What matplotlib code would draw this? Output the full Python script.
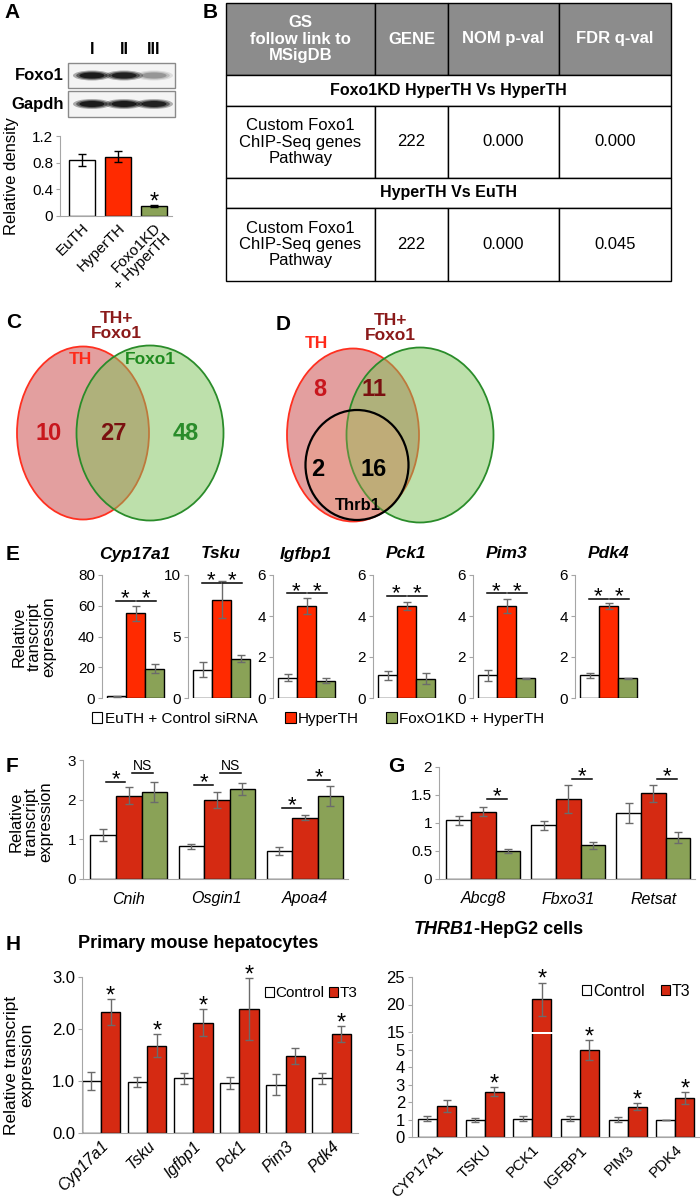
import numpy as np
import matplotlib
matplotlib.use('Agg')
import matplotlib.pyplot as plt
from matplotlib.patches import Ellipse, Rectangle, Patch

W, H = 700, 1198
plt.rcParams['font.family'] = ['Liberation Sans', 'DejaVu Sans']
NARROW = ['Liberation Sans Narrow', 'Liberation Sans', 'DejaVu Sans']

RED_E = '#ff2a00'
RED_H = '#d52a12'
GREEN = '#8aa257'
GRAY = '#a6a6a6'
ERR = '#6b6b6b'

# ---- A: western blot quantification
a_groups = ['EuTH', 'HyperTH', 'Foxo1KD\n+ HyperTH']
a_vals = [0.84, 0.89, 0.15]
a_errs = [0.09, 0.08, 0.01]
blot_lanes = ['I', 'II', 'III']
foxo1_band = [1.0, 0.95, 0.3]
gapdh_band = [1.0, 1.0, 0.95]

# ---- B: GSEA table
b_header = ['GS\nfollow link to\nMSigDB', 'GENE', 'NOM p-val', 'FDR q-val']
b_sections = ['Foxo1KD HyperTH Vs HyperTH', 'HyperTH Vs EuTH']
b_gs = ['Custom Foxo1\nChIP-Seq genes\nPathway', 'Custom Foxo1\nChIP-Seq genes\nPathway']
b_gene = ['222', '222']
b_nom = ['0.000', '0.000']
b_fdr = ['0.000', '0.045']

# ---- C / D: venn counts
c_counts = ['10', '27', '48']
d_counts = ['8', '11', '2', '16']

# ---- E
e_genes = ['Cyp17a1', 'Tsku', 'Igfbp1', 'Pck1', 'Pim3', 'Pdk4']
e_euth = [1.0, 2.3, 1.0, 1.1, 1.1, 1.1]
e_euth_err = [0.5, 0.6, 0.15, 0.2, 0.25, 0.1]
e_hyper = [55, 8.0, 4.5, 4.5, 4.5, 4.5]
e_hyper_err = [5, 1.5, 0.4, 0.2, 0.35, 0.15]
e_kd = [19, 3.2, 0.85, 0.95, 0.97, 0.97]
e_kd_err = [3, 0.3, 0.12, 0.25, 0.03, 0.03]
e_ymax = [80, 10, 6, 6, 6, 6]
e_step = [20, 5, 2, 2, 2, 2]
e_sig_y = [63, 9.35, 5.1, 5.0, 5.1, 4.85]
e_legend = ['EuTH + Control siRNA', 'HyperTH', 'FoxO1KD + HyperTH']

# ---- F
f_genes = ['Cnih', 'Osgin1', 'Apoa4']
f_euth = [1.1, 0.82, 0.7]
f_euth_err = [0.15, 0.06, 0.1]
f_hyper = [2.1, 2.0, 1.55]
f_hyper_err = [0.22, 0.2, 0.07]
f_kd = [2.2, 2.27, 2.1]
f_kd_err = [0.25, 0.15, 0.25]
# (group, pair: 0 = EuTH-HyperTH, 1 = HyperTH-KD, y, label)
f_sig = [(0, 0, 2.44, '*'), (0, 1, 2.67, 'NS'), (1, 0, 2.37, '*'),
         (1, 1, 2.67, 'NS'), (2, 0, 1.79, '*'), (2, 1, 2.5, '*')]

# ---- G
g_genes = ['Abcg8', 'Fbxo31', 'Retsat']
g_euth = [1.05, 0.96, 1.18]
g_euth_err = [0.08, 0.08, 0.18]
g_hyper = [1.2, 1.43, 1.53]
g_hyper_err = [0.08, 0.25, 0.15]
g_kd = [0.5, 0.6, 0.74]
g_kd_err = [0.03, 0.06, 0.1]
g_sig = [(0, 1, 1.43, '*'), (1, 1, 1.79, '*'), (2, 1, 1.79, '*')]

# ---- H
h1_genes = ['Cyp17a1', 'Tsku', 'Igfbp1', 'Pck1', 'Pim3', 'Pdk4']
h1_ctrl = [1.0, 0.98, 1.05, 0.96, 0.93, 1.05]
h1_ctrl_err = [0.17, 0.1, 0.1, 0.12, 0.2, 0.1]
h1_t3 = [2.33, 1.68, 2.12, 2.38, 1.48, 1.9]
h1_t3_err = [0.25, 0.22, 0.26, 0.6, 0.15, 0.15]
h1_star = [True, True, True, True, False, True]

h2_genes = ['CYP17A1', 'TSKU', 'PCK1', 'IGFBP1', 'PIM3', 'PDK4']
h2_ctrl = [1.05, 1.0, 1.05, 1.05, 1.0, 1.0]
h2_ctrl_err = [0.15, 0.12, 0.15, 0.15, 0.15, 0.0]
h2_t3 = [1.8, 2.6, 21.0, 5.0, 1.75, 2.25]
h2_t3_err = [0.35, 0.27, 3.0, 0.55, 0.2, 0.35]
h2_star = [False, True, True, True, True, True]


fig = plt.figure(figsize=(7, 11.98), dpi=100)

# overlay axes in pixel coords (y down) for text, table, venn, blot
ov = fig.add_axes([0, 0, 1, 1])
ov.set_xlim(0, W)
ov.set_ylim(H, 0)
ov.axis('off')
ov.set_zorder(10)


def px_ax(x0, y0, x1, y1):
    ax = fig.add_axes([x0 / W, 1 - y1 / H, (x1 - x0) / W, (y1 - y0) / H])
    ax.set_facecolor('none')
    for s in ['top', 'right']:
        ax.spines[s].set_visible(False)
    ax.spines['left'].set_color(GRAY)
    ax.spines['bottom'].set_color(GRAY)
    ax.tick_params(axis='y', length=3, color=GRAY, labelsize=11, pad=2)
    ax.tick_params(axis='x', length=0, labelsize=11)
    return ax


def sig(ax, x0, x1, y, label):
    ax.plot([x0, x1], [y, y], color='black', lw=1.1, clip_on=False)
    if label == '*':
        ax.annotate(label, ((x0 + x1) / 2, y), xytext=(0, -6), textcoords='offset points',
                    ha='center', va='bottom', fontsize=16, annotation_clip=False)
    else:
        ax.annotate(label, ((x0 + x1) / 2, y), xytext=(0, 0), textcoords='offset points',
                    ha='center', va='bottom', fontsize=10, annotation_clip=False)


def star(ax, x, y):
    ax.annotate('*', (x, y), xytext=(0, -6), textcoords='offset points', ha='center',
                va='bottom', fontsize=17, annotation_clip=False)


ekw = dict(ecolor=ERR, elinewidth=1, capsize=3, capthick=1)

# panel letters
for lab, x, y in [('A', 4, 12), ('B', 203, 12), ('C', 6, 323), ('D', 276, 325),
                  ('E', 6, 555), ('F', 6, 766), ('G', 388, 766), ('H', 6, 944)]:
    ov.text(x, y, lab, fontsize=15, fontweight='bold', va='center', ha='left')

# ---------------- A ----------------
lane_x = [92, 124, 154]
for lx, lab in zip(lane_x, blot_lanes):
    ov.text(lx, 50, lab, fontsize=11.5, fontweight='bold', ha='center', va='center')
for (y0, y1, name, bands) in [(63, 88, 'Foxo1', foxo1_band), (91, 117, 'Gapdh', gapdh_band)]:
    ov.add_patch(Rectangle((68, y0), 107, y1 - y0, facecolor='#f4f4f4', edgecolor='#8a8a8a', lw=1))
    ov.text(64, (y0 + y1) / 2, name, fontsize=12, fontweight='bold', ha='right', va='center')
    for lx, b in zip(lane_x, bands):
        for k, a in [(1.0, 0.3), (0.8, 0.45), (0.6, 0.7)]:
            ov.add_patch(Ellipse((lx, (y0 + y1) / 2), 32 * k + 6, 10 * k,
                                 facecolor='black', edgecolor='none', alpha=a * b))

axA = px_ax(60, 136, 172, 216)
axA.bar(range(3), a_vals, 0.7, color=['white', RED_E, GREEN], edgecolor='black', lw=1,
        yerr=a_errs, error_kw=dict(ecolor='black', elinewidth=1, capsize=3, capthick=1))
axA.set_ylim(0, 1.2)
axA.set_xlim(-0.61, 2.5)
axA.set_yticks([0, 0.4, 0.8, 1.2], labels=['0', '0.4', '0.8', '1.2'])
axA.set_xticks(range(3))
axA.set_xticklabels(a_groups, rotation=45, ha='right', rotation_mode='anchor', fontsize=11,
                    linespacing=0.95)
star(axA, 2, a_vals[2] + a_errs[2])
ov.text(12, 176, 'Relative density', rotation=90, fontsize=12, ha='center', va='center')

# ---------------- B ----------------
cols = [226, 375, 448, 559, 671]
rows = [3, 75, 106, 178, 208, 281]
for i, htxt in enumerate(b_header):
    ov.add_patch(Rectangle((cols[i], rows[0]), cols[i + 1] - cols[i], rows[1] - rows[0],
                           facecolor='#8c8c8c', edgecolor='black', lw=1))
    ov.text((cols[i] + cols[i + 1]) / 2, (rows[0] + rows[1]) / 2, htxt, color='white',
            fontweight='bold', fontsize=12, ha='center', va='center', linespacing=1.1)
for k in range(2):
    r0, r1, r2 = rows[1 + 2 * k], rows[2 + 2 * k], rows[3 + 2 * k]
    ov.add_patch(Rectangle((cols[0], r0), cols[-1] - cols[0], r1 - r0, facecolor='white',
                           edgecolor='black', lw=1))
    ov.text((cols[0] + cols[-1]) / 2, (r0 + r1) / 2, b_sections[k], fontweight='bold',
            fontsize=11.5, ha='center', va='center')
    cells = [b_gs[k], b_gene[k], b_nom[k], b_fdr[k]]
    for i, ctxt in enumerate(cells):
        ov.add_patch(Rectangle((cols[i], r1), cols[i + 1] - cols[i], r2 - r1, facecolor='white',
                               edgecolor='black', lw=1))
        ov.text((cols[i] + cols[i + 1]) / 2, (r1 + r2) / 2, ctxt, fontsize=12, ha='center',
                va='center', linespacing=1.1)

# ---------------- C / D venn ----------------
RED_FILL = '#c94141'
GRN_FILL = '#7dc359'
DARK_RED = '#8b1a1a'


def venn_pair(cx_r, cx_g, cy):
    ov.add_patch(Ellipse((cx_r, cy), 132, 173, facecolor=RED_FILL, alpha=0.5, edgecolor='none'))
    ov.add_patch(Ellipse((cx_r, cy), 132, 173, facecolor='none', edgecolor='#ff3020', lw=1.3))
    ov.add_patch(Ellipse((cx_g, cy), 147, 175, facecolor=GRN_FILL, alpha=0.5, edgecolor='none'))
    ov.add_patch(Ellipse((cx_g, cy), 147, 175, facecolor='none', edgecolor='#2a8c2a', lw=1.3))


def vtext(x, y, s, col, fs=12.5):
    ov.text(x, y, s, color=col, fontweight='bold', fontsize=fs, family=NARROW,
            ha='center', va='center', linespacing=1.05)


venn_pair(83, 150, 433)
vtext(116, 326, 'TH+\nFoxo1', DARK_RED)
vtext(80, 360, 'TH', '#ff2a1a')
vtext(150, 360, 'Foxo1', '#1f8a1f')
for txt, x, col in zip(c_counts, [49, 113, 186], ['#c8161d', '#7a1010', '#2a8c2a']):
    vtext(x, 433, txt, col, fs=17)

venn_pair(353, 420, 435)
ov.add_patch(Ellipse((357, 465), 103, 110, facecolor='#f0a070', alpha=0.25, edgecolor='none'))
ov.add_patch(Ellipse((357, 465), 103, 110, facecolor='none', edgecolor='black', lw=1.6))
vtext(390, 328, 'TH+\nFoxo1', DARK_RED)
vtext(316, 343, 'TH', '#ff2a1a')
for txt, x, y, col in zip(d_counts, [320, 374, 318, 374], [390, 390, 470, 470],
                          ['#c8161d', '#7a1010', 'black', 'black']):
    vtext(x, y, txt, col, fs=17)
vtext(358, 505, 'Thrb1', 'black', fs=12)

# ---------------- E ----------------
e_x = [102, 188, 273, 373, 473, 575]
for i, g in enumerate(e_genes):
    ax = px_ax(e_x[i], 575, e_x[i] + 66, 698)
    ax.bar(range(3), [e_euth[i], e_hyper[i], e_kd[i]], 1.0, color=['white', RED_E, GREEN],
           edgecolor='black', lw=1, yerr=[e_euth_err[i], e_hyper_err[i], e_kd_err[i]], error_kw=ekw)
    ax.set_ylim(0, e_ymax[i])
    ax.set_xlim(-0.78, 2.7)
    ax.set_yticks(np.arange(0, e_ymax[i] + 1, e_step[i]))
    ax.set_xticks([])
    ax.spines['bottom'].set_visible(False)
    sig(ax, -0.05, 0.94, e_sig_y[i], '*')
    sig(ax, 1.06, 2.05, e_sig_y[i], '*')
    ov.text(e_x[i] + 33, 554, g, fontsize=12.5, fontweight='bold', fontstyle='italic',
            ha='center', va='center')
ov.text(34, 637, 'Relative\ntranscript\nexpression', rotation=90, fontsize=12,
        ha='center', va='center', linespacing=1.0)
hE = [Patch(facecolor=c, edgecolor='black', lw=0.8) for c in ['white', RED_E, GREEN]]
ov.legend(hE, e_legend, loc='center', bbox_to_anchor=(318, 719), bbox_transform=ov.transData,
          ncol=3, frameon=False, handlelength=0.7, handleheight=0.7, handletextpad=0.15,
          columnspacing=1.8, fontsize=11)


# ---------------- F / G ----------------
def triple(ax, genes, v1, e1, v2, e2, v3, e3, sigs, red):
    w = 0.29
    xs = np.arange(len(genes))
    for off, v, e, c in [(-w, v1, e1, 'white'), (0, v2, e2, red), (w, v3, e3, GREEN)]:
        ax.bar(xs + off, v, w, color=c, edgecolor='black', lw=1, yerr=e, error_kw=ekw)
    for gi, pair, y, lab in sigs:
        if pair == 0:
            sig(ax, gi - w + 0.03, gi - 0.04, y, lab)
        else:
            sig(ax, gi + 0.04, gi + w - 0.01, y, lab)
    ax.set_xticks(xs)
    ax.set_xticklabels(genes, fontstyle='italic', fontsize=11.5)
    ax.tick_params(axis='x', pad=9)
    ax.set_xlim(-0.52, 2.49)


axF = px_ax(83, 760, 348, 879)
triple(axF, f_genes, f_euth, f_euth_err, f_hyper, f_hyper_err, f_kd, f_kd_err, f_sig, RED_H)
axF.set_ylim(0, 3)
axF.set_yticks([0, 1, 2, 3])
ov.text(31, 822, 'Relative\ntranscript\nexpression', rotation=90, fontsize=12,
        ha='center', va='center', linespacing=1.0)

axG = px_ax(439, 767, 695, 879)
triple(axG, g_genes, g_euth, g_euth_err, g_hyper, g_hyper_err, g_kd, g_kd_err, g_sig, RED_H)
axG.set_ylim(0, 2)
axG.set_yticks([0, 0.5, 1, 1.5, 2], labels=['0', '0.5', '1', '1.5', '2'])

# ---------------- H ----------------
hleg = [Patch(facecolor='white', edgecolor='black', lw=0.8), Patch(facecolor=RED_H, edgecolor='black', lw=0.8)]


def pair_bars(ax, ctrl, cerr, t3, terr, w):
    xs = np.arange(len(ctrl))
    ax.bar(xs - w / 2, ctrl, w, color='white', edgecolor='black', lw=1, yerr=cerr, error_kw=ekw)
    ax.bar(xs + w / 2, t3, w, color=RED_H, edgecolor='black', lw=1, yerr=terr, error_kw=ekw)
    return xs


axH1 = px_ax(82, 977, 358, 1133)
xs = pair_bars(axH1, h1_ctrl, h1_ctrl_err, h1_t3, h1_t3_err, 0.42)
axH1.set_ylim(0, 3)
axH1.set_xlim(-0.41, 5.57)
axH1.set_yticks([0, 1, 2, 3], labels=['0.0', '1.0', '2.0', '3.0'])
axH1.tick_params(axis='y', labelsize=12)
axH1.set_xticks(xs)
axH1.set_xticklabels(h1_genes, rotation=45, ha='right', rotation_mode='anchor',
                     fontstyle='italic', fontsize=11.5)
axH1.tick_params(axis='x', pad=4)
for i in range(len(xs)):
    if h1_star[i]:
        star(axH1, xs[i] + 0.21, h1_t3[i] + h1_t3_err[i])
axH1.legend(hleg, ['Control', 'T3'], loc='upper right', bbox_to_anchor=(1.03, 1.0), ncol=2,
            frameon=False, handlelength=0.6, handleheight=0.6, handletextpad=0.1,
            columnspacing=0.25, fontsize=11, borderaxespad=0.2)
ov.text(198, 944, 'Primary mouse hepatocytes', fontsize=13, fontweight='bold', ha='center', va='center')
ov.text(19, 1065, 'Relative transcript\nexpression', rotation=90, fontsize=12.5,
        ha='center', va='center', linespacing=1.0)

axH2 = px_ax(412, 1034, 700, 1137)
axH2u = px_ax(412, 977, 700, 1032)
for ax in (axH2, axH2u):
    xs2 = pair_bars(ax, h2_ctrl, h2_ctrl_err, h2_t3, h2_t3_err, 0.4)
    ax.set_xlim(-0.525, 5.52)
    ax.tick_params(axis='y', labelsize=12)
axH2.set_ylim(0, 5.92)
axH2.set_yticks([0, 1, 2, 3, 4, 5])
axH2.set_xticks(xs2)
axH2.set_xticklabels(h2_genes, rotation=45, ha='right', rotation_mode='anchor', fontsize=11)
axH2.tick_params(axis='x', pad=4)
axH2u.set_ylim(15, 25)
axH2u.set_yticks([15, 20, 25])
axH2u.set_xticks([])
axH2u.spines['bottom'].set_visible(False)
for i in range(len(xs2)):
    if h2_star[i]:
        tgt = axH2u if h2_t3[i] > 15 else axH2
        star(tgt, xs2[i] + 0.2, h2_t3[i] + h2_t3_err[i])
axH2u.legend(hleg, ['Control', 'T3'], loc='upper right', bbox_to_anchor=(1.0, 1.05), ncol=2,
             frameon=False, handlelength=0.6, handleheight=0.6, handletextpad=0.1,
             columnspacing=1.0, fontsize=11.5, borderaxespad=0.2)
ov.text(474, 929, 'THRB1', fontsize=13, fontweight='bold', fontstyle='italic', ha='right', va='center')
ov.text(474, 929, '-HepG2 cells', fontsize=13, fontweight='bold', ha='left', va='center')

fig.savefig('out.png', dpi=100)
